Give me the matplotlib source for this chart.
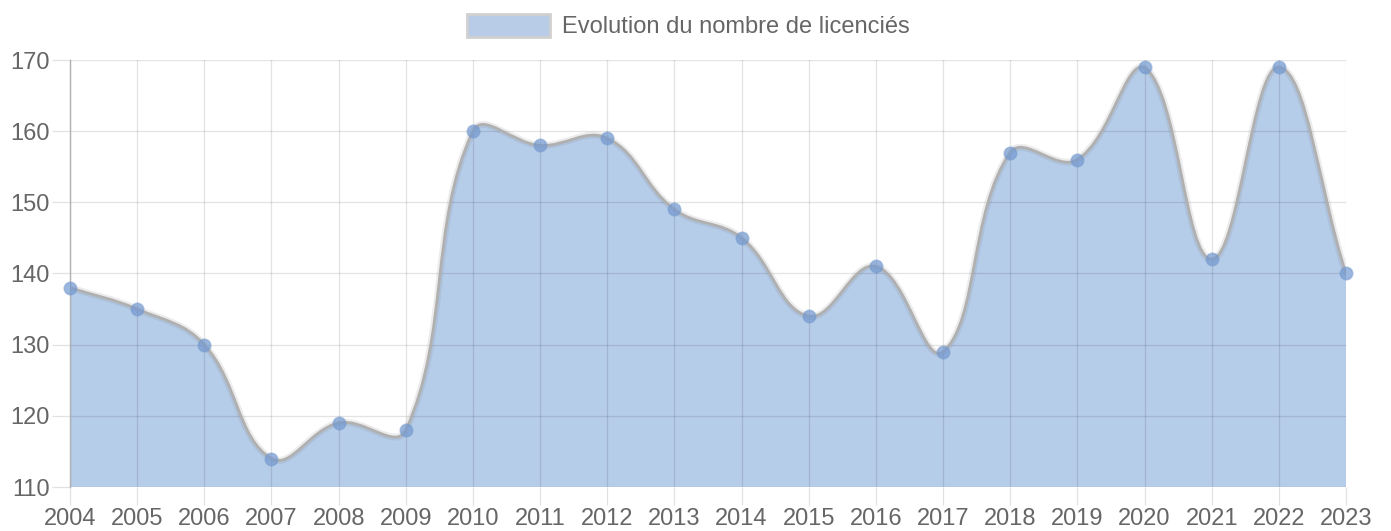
import matplotlib
matplotlib.use("Agg")
import matplotlib.pyplot as plt
from matplotlib.path import Path
from matplotlib.patches import PathPatch, Patch
import numpy as np

years = [2004, 2005, 2006, 2007, 2008, 2009, 2010, 2011, 2012, 2013,
         2014, 2015, 2016, 2017, 2018, 2019, 2020, 2021, 2022, 2023]
licencies = [138, 135, 130, 114, 119, 118, 160, 158, 159, 149,
             145, 134, 141, 129, 157, 156, 169, 142, 169, 140]
y_ticks = [110, 120, 130, 140, 150, 160, 170]
legend_label = "Evolution du nombre de licenciés"

plt.rcParams['font.family'] = ['Liberation Sans', 'DejaVu Sans']

W, H = 1391, 531
fig = plt.figure(figsize=(W / 100, H / 100), dpi=100)
ax = fig.add_axes([70 / W, 1 - 487 / H, (1346 - 70) / W, (487 - 60) / H])
ax.set_xlim(years[0], years[-1])
ax.set_ylim(110, 170)

ax.set_xticks(years)
ax.set_xticklabels([str(y) for y in years])
ax.set_yticks(y_ticks)
ax.grid(True, color='black', alpha=0.11, linewidth=0.9)
ax.set_axisbelow('line')
ax.tick_params(axis='both', length=13, width=0.9, color='#e2e2e2',
               labelsize=17, labelcolor='#666666')
ax.tick_params(axis='y', pad=1.5)
ax.tick_params(axis='x', pad=2)
for s in ['top', 'right', 'bottom']:
    ax.spines[s].set_visible(False)
ax.spines['left'].set_color('#b0b0b0')
ax.spines['left'].set_linewidth(1.0)

# Chart.js-like spline (tension 0.4) in display space
fig.canvas.draw()
pts = ax.transData.transform(np.column_stack([years, licencies]))
bbox = ax.bbox
t = 0.4
n = len(pts)
cps = []
for i in range(n):
    prev = pts[i - 1] if i > 0 else pts[i]
    cur = pts[i]
    nxt = pts[i + 1] if i < n - 1 else pts[i]
    d01 = np.hypot(*(cur - prev))
    d12 = np.hypot(*(nxt - cur))
    tot = d01 + d12
    s01 = d01 / tot if tot else 0
    s12 = d12 / tot if tot else 0
    c1 = cur - t * s01 * (nxt - prev)
    c2 = cur + t * s12 * (nxt - prev)
    for c in (c1, c2):
        c[0] = min(max(c[0], bbox.x0), bbox.x1)
        c[1] = min(max(c[1], bbox.y0), bbox.y1)
    cps.append((c1, c2))

verts = [pts[0]]
codes = [Path.MOVETO]
for i in range(n - 1):
    verts += [cps[i][1], cps[i + 1][0], pts[i + 1]]
    codes += [Path.CURVE4] * 3
inv = ax.transData.inverted()
dverts = inv.transform(np.array(verts))

line_path = Path(dverts, codes)
fill_verts = np.vstack([dverts, [[years[-1], 110], [years[0], 110], dverts[0]]])
fill_codes = codes + [Path.LINETO, Path.LINETO, Path.CLOSEPOLY]
fill_path = Path(fill_verts, fill_codes)

fill_color = (0.27, 0.50, 0.79, 0.39)
ax.add_patch(PathPatch(fill_path, facecolor=fill_color, edgecolor='none', zorder=1))
ax.add_patch(PathPatch(line_path, facecolor='none', edgecolor=(0.5, 0.5, 0.5, 0.15),
                       linewidth=5.0, zorder=3, capstyle='round', joinstyle='round'))
ax.add_patch(PathPatch(line_path, facecolor='none', edgecolor='#b0b0b0',
                       linewidth=2.0, zorder=4, capstyle='round', joinstyle='round'))
ax.plot(years, licencies, linestyle='none', marker='o', markersize=9,
        markerfacecolor=(0.45, 0.60, 0.82, 0.7), markeredgecolor=(0.45, 0.60, 0.80, 0.5),
        markeredgewidth=1.2, zorder=5, clip_on=False)

handle = Patch(facecolor=(0.72, 0.80, 0.91), edgecolor='#d0d0d0', linewidth=2.0)
fig.legend([handle], [legend_label], loc='center',
           bbox_to_anchor=(0.5 - 7 / W, 1 - 26 / H),
           frameon=False, fontsize=17, labelcolor='#666666',
           handlelength=3.5, handleheight=1.15, handletextpad=0.5)

fig.savefig('out.png', dpi=100)
